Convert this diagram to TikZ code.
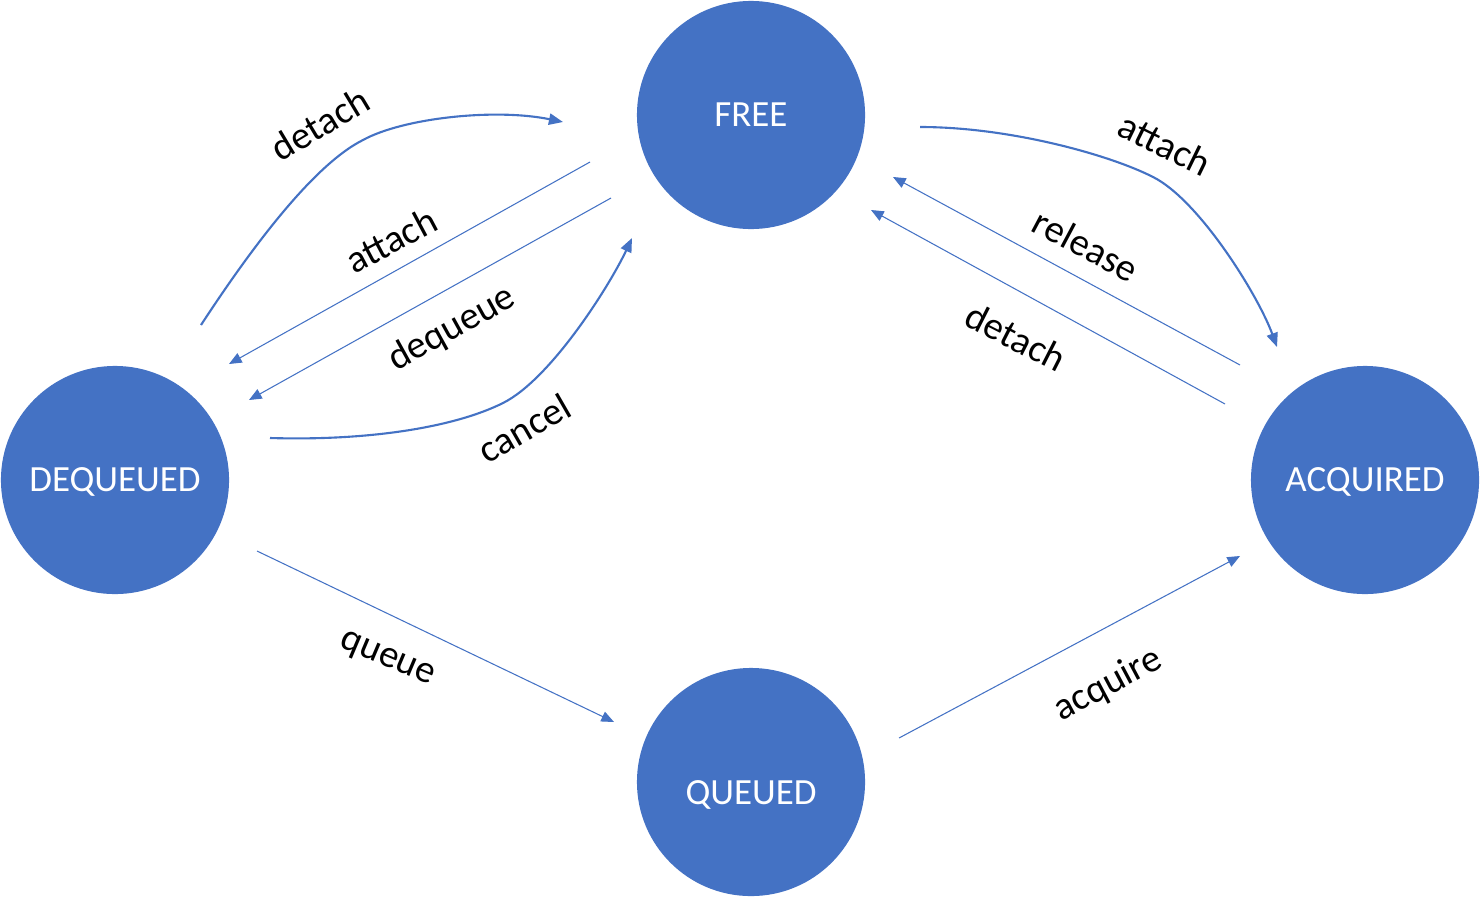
\documentclass[tikz,border=0pt]{standalone}
\usepackage{fontspec}
\setmainfont{Carlito}
\usetikzlibrary{arrows.meta}
\definecolor{officeblue}{HTML}{4472C4}
\tikzset{
  state/.style={circle, fill=officeblue, draw=none, minimum size=2.28cm, inner sep=0pt,
    text=white, font=\fontsize{10.5}{12}\selectfont},
  curvearrow/.style={draw=officeblue, line width=0.6pt, -{Triangle[length=4pt,width=3.2pt]}},
  linearrow/.style={draw=officeblue, line width=0.3pt, -{Triangle[length=3.6pt,width=3pt]}},
  lbl/.style={font=\fontsize{11}{13}\selectfont, inner sep=0pt}
}
\newcommand{\lowtext}[2]{\raisebox{#1}[0pt][0pt]{#2}}
\begin{document}
\begin{tikzpicture}[x=0.01cm, y=-0.01cm]
\useasboundingbox (0,0) rectangle (1480,897);

\node[state] (free) at (751,115) {\lowtext{-3.4pt}{FREE}};
\node[state] (deq) at (115,480) {\lowtext{-3.4pt}{DEQUEUED}};
\node[state] (acq) at (1365,480) {\lowtext{-3.4pt}{ACQUIRED}};
\node[state] (que) at (751,782) {\lowtext{-6.5pt}{QUEUED}};

% endpoints
\coordinate (detLs) at (201,325);
\coordinate (detLe) at (563,122);
\coordinate (attLs) at (590,162);
\coordinate (attLe) at (229,364);
\coordinate (deqs) at (611,198);
\coordinate (deqe) at (249,400);
\coordinate (cans) at (270,438);
\coordinate (cane) at (632,238);
\coordinate (attRs) at (920,127);
\coordinate (attRe) at (1277,347);
\coordinate (rels) at (1240,365);
\coordinate (rele) at (893,177);
\coordinate (detRs) at (1225,404);
\coordinate (detRe) at (871,210);
\coordinate (ques) at (257,551);
\coordinate (quee) at (614,722);
\coordinate (acqs) at (899,738);
\coordinate (acqe) at (1240,556);

% curves
\draw[curvearrow] (detLs) .. controls (250,250) and (313,165) .. (363,140)
   .. controls (403,118) and (495,108) .. (detLe);
\draw[curvearrow] (cans) .. controls (370,441) and (455,427) .. (503,403)
   .. controls (551,379) and (610,285) .. (cane);
\draw[curvearrow] (attRs) .. controls (1010,127) and (1110,155) .. (1153,177)
   .. controls (1199,200) and (1258,295) .. (attRe);

% straight lines
\draw[linearrow] (attLs) -- (attLe);
\draw[linearrow] (deqs) -- (deqe);
\draw[linearrow] (rels) -- (rele);
\draw[linearrow] (detRs) -- (detRe);
\draw[linearrow] (ques) -- (quee);
\draw[linearrow] (acqs) -- (acqe);

% labels
\node[lbl, rotate=31] (ldetL) at (320,124) {detach};
\node[lbl, rotate=28] (lattL) at (391,240) {attach};
\node[lbl, rotate=29] (ldeq) at (452,329) {dequeue};
\node[lbl, rotate=30] (lcan) at (524,428) {cancel};
\node[lbl, rotate=-26] (lattR) at (1165,144) {attach};
\node[lbl, rotate=-28] (lrel) at (1086,245) {release};
\node[lbl, rotate=-27] (ldetR) at (1016,337) {detach};
\node[lbl, rotate=-23] (lque) at (387,660) {queue};
\node[lbl, rotate=28] (lacq) at (1108,685) {acquire};
\end{tikzpicture}
\end{document}
